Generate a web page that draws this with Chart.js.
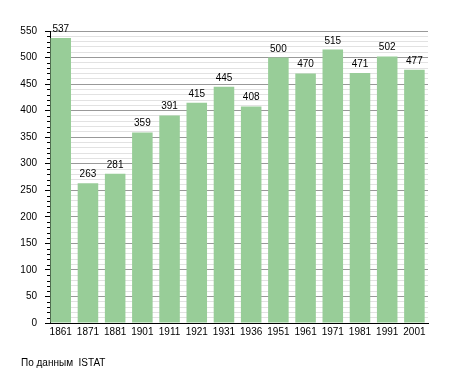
<!DOCTYPE html>
<html lang="ru">
<head>
    <meta charset="UTF-8">
    <title>Население</title>
    <script src="https://cdnjs.cloudflare.com/ajax/libs/Chart.js/4.4.0/chart.umd.min.js"></script>
    <style>
        body { margin: 0; background: #fff; }
        .wrap { position: relative; width: 455px; height: 373px; }
        #chart { position: absolute; left: 0; top: 0; }
        .source {
            position: absolute;
            left: 21px;
            top: 358px;
            font: 10px/10px "Liberation Sans", Arial, sans-serif;
            color: #000;
            white-space: pre;
        }
    </style>
</head>
<body>
    <div class="wrap">
        <canvas id="chart" width="455" height="373"></canvas>
        <div class="source">По данным  ISTAT</div>
    </div>

    <script>
        // census years and population
        const categories = ['1861', '1871', '1881', '1901', '1911', '1921', '1931', '1936', '1951', '1961', '1971', '1981', '1991', '2001'];
        const population = [537, 263, 281, 359, 391, 415, 445, 408, 500, 470, 515, 471, 502, 477];
        const yMax = 550;
        const yMinorStep = 10;
        const yMajorStep = 50;

        const font = { family: '"Liberation Sans", Arial, sans-serif', size: 10 };

        // value labels above bars + short minor ticks on the y axis
        const extras = {
            id: 'extras',
            afterDraw(chart) {
                const ctx = chart.ctx;
                const y = chart.scales.y;
                ctx.save();
                ctx.strokeStyle = '#000';
                ctx.lineWidth = 1;
                y.ticks.forEach(t => {
                    if (t.value % yMajorStep === 0) return;
                    const py = Math.round(y.getPixelForValue(t.value)) + 0.5;
                    ctx.beginPath();
                    ctx.moveTo(y.right - 3, py);
                    ctx.lineTo(y.right, py);
                    ctx.stroke();
                });
                ctx.font = '10px "Liberation Sans", Arial, sans-serif';
                ctx.fillStyle = '#000';
                ctx.textAlign = 'center';
                ctx.textBaseline = 'alphabetic';
                chart.getDatasetMeta(0).data.forEach((bar, i) => {
                    ctx.fillText(String(population[i]), bar.x, bar.y - 6);
                });
                ctx.restore();
            }
        };

        new Chart(document.getElementById('chart'), {
            type: 'bar',
            data: {
                datasets: [{
                    data: population.map((v, i) => ({ x: i, y: v })),
                    backgroundColor: '#98cd98',
                    borderWidth: 0,
                    barPercentage: 0.755,
                    categoryPercentage: 1
                }]
            },
            options: {
                responsive: false,
                animation: false,
                devicePixelRatio: 1,
                layout: { padding: { top: 31, right: 27, left: 0, bottom: 0 } },
                plugins: {
                    legend: { display: false },
                    tooltip: { enabled: false }
                },
                scales: {
                    x: {
                        type: 'linear',
                        offset: false,
                        min: -0.395,
                        max: 13.5,
                        afterBuildTicks: s => { s.ticks = categories.map((c, i) => ({ value: i })); },
                        afterFit: s => { s.height = 50; },
                        ticks: {
                            callback: v => categories[v],
                            autoSkip: false,
                            maxRotation: 0,
                            padding: 3,
                            color: '#000',
                            font: font
                        },
                        grid: { display: false, drawTicks: false, offset: false },
                        border: { color: '#000', width: 1 }
                    },
                    y: {
                        min: 0,
                        max: yMax,
                        afterBuildTicks: s => {
                            const t = [];
                            for (let v = 0; v <= yMax; v += yMinorStep) t.push({ value: v });
                            s.ticks = t;
                        },
                        afterFit: s => { s.width = 50; },
                        ticks: {
                            callback: v => (v % yMajorStep === 0 ? v : ''),
                            autoSkip: false,
                            padding: 8,
                            color: '#000',
                            font: font
                        },
                        grid: {
                            color: c => (c.tick && c.tick.value % yMajorStep === 0 ? '#999999' : '#e2e2e2'),
                            tickColor: c => (c.tick && c.tick.value % yMajorStep === 0 ? '#000' : 'rgba(0,0,0,0)'),
                            tickLength: 5
                        },
                        border: { color: '#000', width: 1 }
                    }
                }
            },
            plugins: [extras]
        });
    </script>
</body>
</html>
